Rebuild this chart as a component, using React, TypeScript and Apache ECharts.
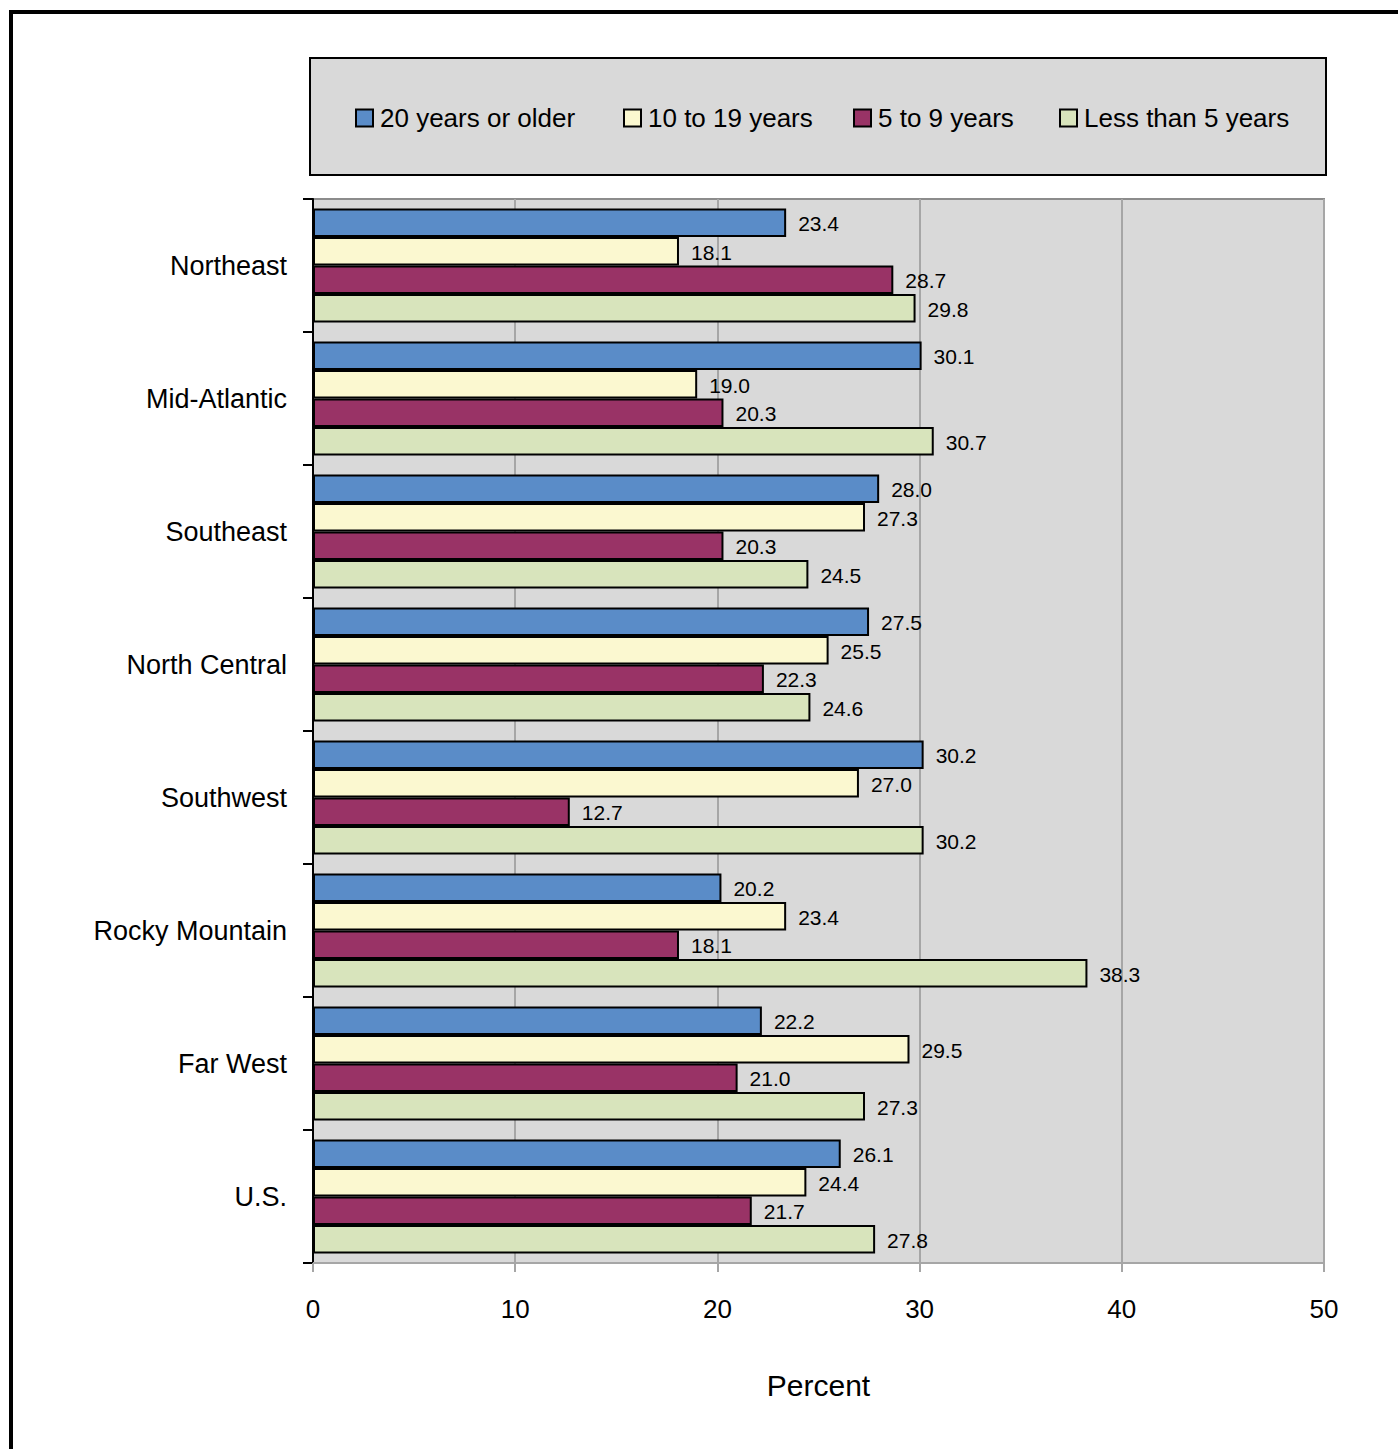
import React, { useEffect, useRef } from "react";
import * as echarts from "echarts";

const categories = [
  "Northeast",
  "Mid-Atlantic",
  "Southeast",
  "North Central",
  "Southwest",
  "Rocky Mountain",
  "Far West",
  "U.S.",
];
const seriesNames = ["20 years or older", "10 to 19 years", "5 to 9 years", "Less than 5 years"];
const older20 = [23.4, 30.1, 28.0, 27.5, 30.2, 20.2, 22.2, 26.1];
const y10to19 = [18.1, 19.0, 27.3, 25.5, 27.0, 23.4, 29.5, 24.4];
const y5to9 = [28.7, 20.3, 20.3, 22.3, 12.7, 18.1, 21.0, 21.7];
const less5 = [29.8, 30.7, 24.5, 24.6, 30.2, 38.3, 27.3, 27.8];
const xTicks = [0, 10, 20, 30, 40, 50];
const colors = ["#5a8cc8", "#fbf8d0", "#993366", "#d8e4bc"];
const legendLefts = [355, 623, 853, 1059];

const FONT = "'Liberation Sans', Arial, sans-serif";

export default function App() {
  const ref = useRef<HTMLDivElement>(null);
  useEffect(() => {
    if (!ref.current) return;
    const chart = echarts.init(ref.current, null, { renderer: "svg" });
    const values = [older20, y10to19, y5to9, less5];
    chart.setOption({
      animation: false,
      backgroundColor: "#ffffff",
      textStyle: { fontFamily: FONT, color: "#000" },
      graphic: [
        {
          type: "rect",
          z: 0,
          shape: { x: 11, y: 12, width: 1450, height: 1500 },
          style: { fill: "none", stroke: "#000", lineWidth: 4 },
        },
        {
          type: "rect",
          z: 0,
          shape: { x: 310, y: 58, width: 1016, height: 117 },
          style: { fill: "#d9d9d9", stroke: "#000", lineWidth: 2 },
        },
      ],
      legend: seriesNames.map((n, i) => ({
        data: [n],
        left: legendLefts[i],
        top: 105,
        padding: 0,
        itemWidth: 17,
        itemHeight: 17,
        icon: "rect",
        selectedMode: false,
        textStyle: { fontSize: 26, color: "#000", fontFamily: FONT, padding: [0, 0, 0, 2] },
      })),
      grid: {
        left: 313,
        right: 74,
        top: 199,
        bottom: 186,
        show: true,
        backgroundColor: "#d9d9d9",
        borderColor: "#8c8c8c",
        borderWidth: 2,
        containLabel: false,
      },
      xAxis: {
        type: "value",
        min: 0,
        max: 50,
        interval: 10,
        name: "Percent",
        nameLocation: "middle",
        nameGap: 107,
        nameTextStyle: { fontSize: 30, color: "#000", fontFamily: FONT },
        axisLine: { show: true, lineStyle: { color: "#a6a6a6", width: 2 } },
        axisTick: { show: true, length: 9, lineStyle: { color: "#a6a6a6", width: 2 } },
        splitLine: { show: true, lineStyle: { color: "#a6a6a6", width: 2 } },
        axisLabel: {
          fontSize: 26,
          color: "#000",
          margin: 33,
          fontFamily: FONT,
          formatter: (v: number) => (xTicks.includes(v) ? String(v) : ""),
        },
      },
      yAxis: {
        type: "category",
        inverse: true,
        data: categories,
        axisLine: { show: true, lineStyle: { color: "#000", width: 2 } },
        axisTick: { show: true, length: 10, lineStyle: { color: "#000", width: 2 } },
        axisLabel: { fontSize: 27, color: "#000", margin: 26, fontFamily: FONT },
      },
      series: seriesNames.map((n, i) => ({
        name: n,
        type: "bar",
        data: values[i],
        barWidth: 28.5,
        barGap: "0%",
        itemStyle: { color: colors[i], borderColor: "#000", borderWidth: 2 },
        label: {
          show: true,
          position: "right",
          distance: 12,
          offset: [0, 1],
          fontSize: 21,
          color: "#000",
          fontFamily: FONT,
          formatter: (p: any) => Number(p.value).toFixed(1),
        },
      })),
    });
    return () => chart.dispose();
  }, []);
  return (
    <div
      ref={ref}
      style={{ position: "fixed", left: 0, top: 0, width: 1398, height: 1449 }}
    />
  );
}
